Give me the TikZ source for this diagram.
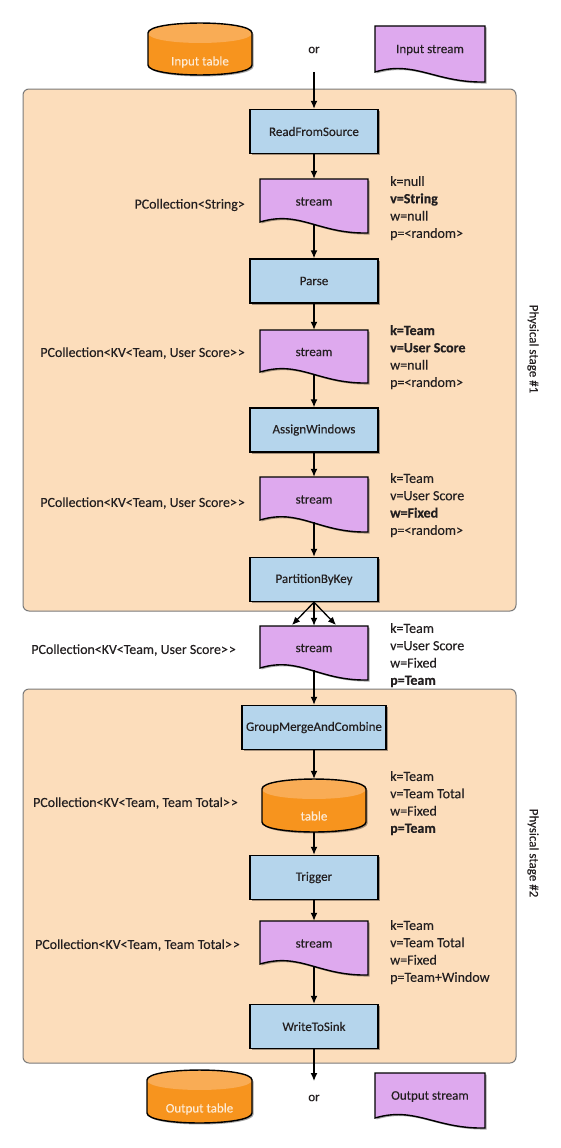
\documentclass[tikz,border=0pt]{standalone}
\usepackage{fontspec}
\setmainfont{Carlito}[UprightFeatures={FakeBold=0.2},BoldFeatures={FakeBold=0.4}]
\usetikzlibrary{arrows.meta,shadows}
\definecolor{txt}{HTML}{231F20}
\definecolor{peach}{HTML}{FCDDBB}
\definecolor{boxblue}{HTML}{B5D5EC}
\definecolor{lilac}{HTML}{DEA9EE}
\definecolor{orgbody}{HTML}{F7941E}
\definecolor{orgtop}{HTML}{F9AC55}
\definecolor{stageline}{HTML}{7A7A7A}
\definecolor{cyltext}{HTML}{FDEBD6}
\tikzset{
  shad/.style={drop shadow={shadow xshift=1.5pt,shadow yshift=-1.5pt,opacity=0.35,fill=black}},
  shapeline/.style={draw=black,line width=1.4pt},
  opbox/.style={draw=black,line width=1.4pt,fill=boxblue,shad,inner sep=0pt,minimum width=128pt,minimum height=44pt},
  stagebox/.style={draw=stageline,line width=1pt,fill=peach,rounded corners=6pt,inner sep=0pt},
  arr/.style={draw=black,line width=1.3pt,-{Latex[length=8pt,width=7pt]}},
  info/.style={anchor=north west,align=left,inner sep=0pt,font=\fontsize{14}{17.3}\selectfont},
  coll/.style={anchor=east,inner sep=0pt,font=\fontsize{13.9}{16}\selectfont},
  anchorbox/.style={inner sep=0pt,draw=none},
}
\newcommand\mystream[7]{%
  \path[shapeline,fill=lilac,shad] (#2,#4) -- (#3,#4) -- (#3,#6) .. controls ({#3-50},{#6+1}) and ({#2+40},{#5-12}) .. (#2,#5) -- cycle;
  \node[anchorbox,minimum width={#3-#2},minimum height={#5+2-#4}] (#1) at ({(#2+#3)/2},{(#4+#5+2)/2}) {#7};
}
\newcommand\mycyl[7]{%
  \path[fill=orgbody,shad] (#2,{#4+10}) -- (#2,{#5-10}) .. controls (#2,{#5+3.3}) and (#3,{#5+3.3}) .. (#3,{#5-10}) -- (#3,{#4+10}) .. controls (#3,{#4-3.3}) and (#2,{#4-3.3}) .. cycle;
  \path[fill=orgtop] (#2,{#4+10}) .. controls (#2,{#4-3.3}) and (#3,{#4-3.3}) .. (#3,{#4+10}) .. controls (#3,{#4+23.3}) and (#2,{#4+23.3}) .. cycle;
  \path[shapeline] (#2,{#4+10}) -- (#2,{#5-10}) .. controls (#2,{#5+3.3}) and (#3,{#5+3.3}) .. (#3,{#5-10}) -- (#3,{#4+10}) .. controls (#3,{#4-3.3}) and (#2,{#4-3.3}) .. cycle;
  \node[anchorbox,minimum width={#3-#2},minimum height={#5-#4}] (#1) at ({(#2+#3)/2},{(#4+#5)/2}) {};
  \node[text=cyltext,inner sep=0pt] (#1t) at ({(#2+#3)/2},#7) {#6};
}
\begin{document}
\begin{tikzpicture}[x=1pt,y=-1pt,font=\fontsize{13}{16}\selectfont,text=txt]
\useasboundingbox (0,0) rectangle (561,1148);
\fill[white] (0,0) rectangle (561,1148);

% stages
\node[stagebox,minimum width=493pt,minimum height=522pt] (stage1) at (269.5,350) {};
\node[stagebox,minimum width=493pt,minimum height=374pt] (stage2) at (269.5,876) {};
\node[rotate=-90,inner sep=0pt] (lab1) at (533,349) {Physical stage \#1};
\node[rotate=-90,inner sep=0pt] (lab2) at (533,853) {Physical stage \#2};

% inputs
\mycyl{intable}{148}{252}{23}{75}{Input table}{62}
\node (or1) at (314,50) {or};
\mystream{instream}{375}{485}{26}{72}{82}{Input stream}
\coordinate (instart) at (314,72);

% stage 1
\node[opbox] (rfs) at (314,131.5) {ReadFromSource};
\mystream{s1}{260}{368}{179}{222}{233}{stream}
\node[opbox] (parse) at (314,281) {Parse};
\mystream{s2}{260}{368}{330}{372}{383}{stream}
\node[opbox] (assign) at (314,430) {AssignWindows};
\mystream{s3}{260}{368}{477}{520}{532}{stream}
\node[opbox] (pbk) at (314,579.5) {PartitionByKey};
\mystream{s4}{260}{368}{626}{668}{680}{stream}

% stage 2
\node[opbox,minimum width=144pt] (gmc) at (314,727.5) {GroupMergeAndCombine};
\mycyl{tbl}{262}{366}{779}{832}{table}{816}
\node[opbox] (trig) at (314,877.5) {Trigger};
\mystream{s5}{260}{368}{921}{964}{975}{stream}
\node[opbox] (wts) at (314,1026.5) {WriteToSink};

% outputs
\coordinate (outend) at (314,1081);
\mycyl{outtable}{147}{252}{1070}{1123}{Output table}{1109}
\node (or2) at (314,1098) {or};
\mystream{outstream}{375}{485}{1073}{1118}{1128}{Output stream}

% connectors
\draw[arr] (instart) -- (rfs);
\draw[arr] (rfs) -- (s1);
\draw[arr] (s1) -- (parse);
\draw[arr] (parse) -- (s2);
\draw[arr] (s2) -- (assign);
\draw[arr] (assign) -- (s3);
\draw[arr] (s3) -- (pbk);
\coordinate (fanL) at (292,625);
\coordinate (fanR) at (336,625);
\draw[arr] (pbk.south) -- (fanL);
\draw[arr] (pbk.south) -- (s4.north);
\draw[arr] (pbk.south) -- (fanR);
\draw[arr] (s4) -- (gmc);
\draw[arr] (gmc) -- (tbl);
\draw[arr] (tbl) -- (trig);
\draw[arr] (trig) -- (s5);
\draw[arr] (s5) -- (wts);
\draw[arr] (wts) -- (outend);

% left labels
\node[coll] (c1) at (245,205) {PCollection<String>};
\node[coll] (c2) at (245,353) {PCollection<KV<Team, User Score>\kern1pt>};
\node[coll] (c3) at (245,503) {PCollection<KV<Team, User Score>\kern1pt>};
\node[coll] (c4) at (236,650) {PCollection<KV<Team, User Score>\kern1pt>};
\node[coll] (c5) at (238,803) {PCollection<KV<Team, Team Total>\kern1pt>};
\node[coll] (c6) at (240,945) {PCollection<KV<Team, Team Total>\kern1pt>};

% right labels
\node[info] (i1) at (390,176) {k=null\\\textbf{v=String}\\w=null\\p=<random>};
\node[info] (i2) at (390,325) {\textbf{k=Team}\\\textbf{v=User Score}\\w=null\\p=<random>};
\node[info] (i3) at (390,473) {k=Team\\v=User Score\\\textbf{w=Fixed}\\p=<random>};
\node[info] (i4) at (390,623) {k=Team\\v=User Score\\w=Fixed\\\textbf{p=Team}};
\node[info] (i5) at (390,771) {k=Team\\v=Team Total\\w=Fixed\\\textbf{p=Team}};
\node[info] (i6) at (390,920) {k=Team\\v=Team Total\\w=Fixed\\p=Team+Window};
\end{tikzpicture}
\end{document}
